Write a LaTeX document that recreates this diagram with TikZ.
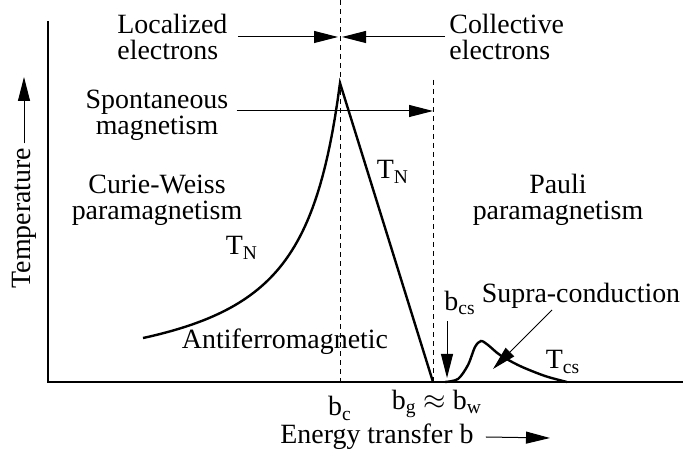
\documentclass[tikz,border=0pt]{standalone}
\usepackage{fontspec}
\setmainfont{Liberation Serif}
\usetikzlibrary{arrows.meta, positioning, calc}

\begin{document}
\begin{tikzpicture}[
    x=0.5bp, y=-0.5bp,
    lbl/.style={align=center, inner sep=0pt, font=\fontsize{14}{13}\selectfont},
    arrow/.style={-{Triangle[length=12bp,width=6bp]}, line width=0.5bp},
    axis/.style={line width=0.8bp},
    curve/.style={line width=1.2bp},
    guide/.style={dash pattern=on 2.5bp off 2bp, line width=0.5bp}
]
\useasboundingbox (0,0) rectangle (683,457);
\coordinate (origin) at (48,382);
\coordinate (ytop) at (48,21);
\coordinate (xend) at (683,382);
\coordinate (peak) at (340,83);
\coordinate (bc) at (340,382);
\coordinate (bctop) at (340,0);
\coordinate (bg) at (433,382);
\coordinate (bgtop) at (433,80);
\coordinate (bcs) at (447,378);
\coordinate (suprafoot) at (552,310);
\coordinate (supratip) at (493,369);
\coordinate (tempup) at (24,77);
\coordinate (energyend) at (550,438);

\node[lbl, align=left, anchor=west] (loc) at (117,37) {Localized\\electrons};
\node[lbl, align=left, anchor=west] (coll) at (449,37) {Collective\\electrons};
\node[lbl] (spont) at (157,115) {Spontaneous\\magnetism};
\node[lbl] (curie) at (157,200) {Curie-Weiss\\paramagnetism};
\node[lbl] (pauli) at (558,200) {Pauli\\paramagnetism};
\node[lbl] (tnleft) at (242,248) {T\textsubscript{N}};
\node[lbl] (tnright) at (393,172) {T\textsubscript{N}};
\node[lbl] (afm) at (285,342) {Antiferromagnetic};
\node[lbl] (bcslbl) at (460,303) {b\textsubscript{cs}};
\node[lbl] (supra) at (581,296) {Supra-conduction};
\node[lbl] (tcs) at (563,362) {T\textsubscript{cs}};
\node[lbl, below=7bp of bc] (bclbl) {b\textsubscript{c}};
\node[lbl] (bglbl) at (437,404) {b\textsubscript{g} $\approx$ b\textsubscript{w}};
\node[lbl] (energy) at (377,437) {Energy transfer b};
\node[lbl, rotate=90] (temp) at (24,218) {Temperature};

\draw[axis] (ytop) -- (origin) -- (xend);
\draw[guide] (bctop) -- (bc);
\draw[guide] (bgtop) -- (bg);

\draw[curve] plot[domain=143:340, samples=80] (\x, {389.8 - 12271/(380-\x)}) -- (bg);
\draw[curve] plot[smooth] coordinates {(445,382) (458,379) (468,365) (475,347) (481,341) (488,345) (500,355) (520,366) (545,376) (567,382)};

\draw[arrow, shorten >=1bp] ([xshift=5bp]loc.east) -- (loc.east -| bc);
\draw[arrow, shorten >=1bp] ([xshift=-2bp]coll.west) -- (coll.west -| bc);
\draw[arrow] ([xshift=4bp,yshift=2bp]spont.east) -- ([yshift=2bp]spont.east -| bg);
\draw[arrow] ([yshift=-3bp]bcslbl.south -| bcs) -- (bcs);
\draw[arrow] (suprafoot) -- (supratip);
\draw[arrow] ([yshift=2bp]temp.east) -- (tempup);
\draw[arrow] ([xshift=6bp]energy.east) -- (energyend);
\end{tikzpicture}
\end{document}
